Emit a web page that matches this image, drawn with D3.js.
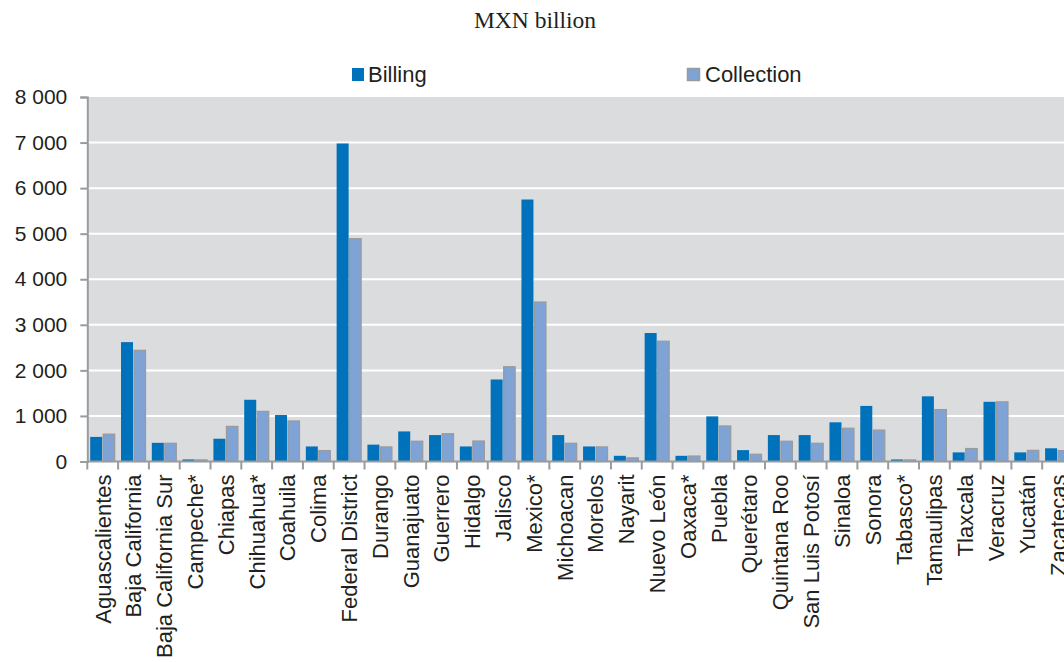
<!DOCTYPE html>
<html>
<head>
<meta charset="utf-8">
<script src="https://cdn.jsdelivr.net/npm/d3@7"></script>
<style>
  html, body { margin: 0; padding: 0; background: #fff; }
  svg { display: block; }
</style>
</head>
<body>
<svg id="chart" width="1064" height="662"></svg>
<script>
const categories = ["Aguascalientes","Baja California","Baja California Sur","Campeche*","Chiapas","Chihuahua*","Coahuila","Colima","Federal District","Durango","Guanajuato","Guerrero","Hidalgo","Jalisco","Mexico*","Michoacan","Morelos","Nayarit","Nuevo León","Oaxaca*","Puebla","Querétaro","Quintana Roo","San Luis Potosí","Sinaloa","Sonora","Tabasco*","Tamaulipas","Tlaxcala","Veracruz","Yucatán","Zacatecas"];
const billing =    [540, 2620, 410, 45, 500, 1355, 1020, 330, 6980, 370, 660, 580, 330, 1800, 5750, 580, 330, 125, 2820, 125, 990, 250, 580, 580, 860, 1220, 45, 1430, 200, 1310, 200, 290];
const collection = [600, 2440, 400, 35, 770, 1100, 890, 240, 4890, 320, 445, 610, 450, 2080, 3500, 400, 320, 80, 2640, 120, 780, 160, 445, 400, 730, 690, 35, 1140, 285, 1310, 245, 240];
const seriesNames = ["Billing", "Collection"];
const yTicks = [0, 1000, 2000, 3000, 4000, 5000, 6000, 7000, 8000];
const title = "MXN billion";

(function () {
const svg = d3.select("#chart");
const pLeft = 87.3, pRight = 1073, pTop = 97, pBottom = 461.5;

const x = d3.scaleBand().domain(categories).range([pLeft, pRight]).padding(0);
const x1 = d3.scaleBand().domain(seriesNames).range([2.9, x.bandwidth() - 2.9]).padding(0);
const y = d3.scaleLinear().domain([0, 8000]).range([pBottom, pTop]);

const fmt = v => d3.format(",")(v).replace(/,/g, " ");

// background
svg.append("rect").attr("x", pLeft).attr("y", pTop).attr("width", pRight - pLeft).attr("height", pBottom - pTop).attr("fill", "#dbdcde");

// gridlines
svg.append("g").selectAll("line").data(yTicks.filter(t => t > 0 && t < 8000)).join("line")
  .attr("x1", pLeft).attr("x2", pRight)
  .attr("y1", d => y(d)).attr("y2", d => y(d))
  .attr("stroke", "#fff").attr("stroke-width", 2);

// bars
const data = categories.map((c, i) => ({ c, vals: [billing[i], collection[i]] }));
const groups = svg.append("g").selectAll("g").data(data).join("g")
  .attr("transform", d => `translate(${x(d.c)},0)`);
groups.append("rect")
  .attr("x", x1("Billing")).attr("width", x1.bandwidth() - 0.5)
  .attr("y", d => y(d.vals[0])).attr("height", d => y(0) - y(d.vals[0]))
  .attr("fill", "#0071bb");
groups.append("rect")
  .attr("x", x1("Collection") + 0.5).attr("width", x1.bandwidth() - 1)
  .attr("y", d => y(d.vals[1])).attr("height", d => Math.max(0, y(0) - y(d.vals[1])))
  .attr("fill", "#7fa3d5").attr("stroke", "#999a9c").attr("stroke-width", 1.2);

// y axis
const yAxis = d3.axisLeft(y).tickValues(yTicks).tickSize(7).tickPadding(13).tickFormat(fmt);
const gy = svg.append("g").attr("transform", `translate(${pLeft},0)`).call(yAxis);
gy.select(".domain").attr("stroke", "#9a9b9d").attr("stroke-width", 2);
gy.selectAll(".tick line").attr("stroke", "#9a9b9d").attr("stroke-width", 2);
gy.selectAll(".tick text").attr("font-family", "Liberation Sans, Arial, sans-serif").attr("font-size", 21).attr("fill", "#231f20");

// x axis
const xAxis = d3.axisBottom(x).tickSize(0).tickPadding(0);
const gx = svg.append("g").attr("transform", `translate(0,${pBottom})`).call(xAxis);
gx.select(".domain").remove();
gx.append("line").attr("x1", pLeft).attr("x2", pRight).attr("y1", 0).attr("y2", 0).attr("stroke", "#9a9b9d").attr("stroke-width", 2);
gx.selectAll(".bnd").data(categories.concat(["__end"])).join("line")
  .attr("class", "bnd")
  .attr("x1", (d, i) => i < categories.length ? x(d) : pRight)
  .attr("x2", (d, i) => i < categories.length ? x(d) : pRight)
  .attr("y1", 0).attr("y2", 8)
  .attr("stroke", "#9a9b9d").attr("stroke-width", 2);
gx.selectAll(".tick text")
  .attr("font-family", "Liberation Sans, Arial, sans-serif").attr("font-size", 22).attr("fill", "#231f20")
  .attr("text-anchor", "end")
  .attr("transform", "translate(0,13) rotate(-90)")
  .attr("x", 0).attr("y", 0).attr("dy", "0.36em");

// legend
const leg = svg.append("g").attr("font-family", "Liberation Sans, Arial, sans-serif").attr("font-size", 22).attr("fill", "#231f20");
leg.append("rect").attr("x", 352).attr("y", 68).attr("width", 12).attr("height", 13).attr("fill", "#0071bb");
leg.append("text").attr("x", 368).attr("y", 82).text(seriesNames[0]);
leg.append("rect").attr("x", 687.5).attr("y", 68.5).attr("width", 12).attr("height", 12).attr("fill", "#7fa3d5").attr("stroke", "#999a9c").attr("stroke-width", 1.5);
leg.append("text").attr("x", 705).attr("y", 82).text(seriesNames[1]);

// title
svg.append("text").attr("x", 535).attr("y", 28).attr("text-anchor", "middle")
  .attr("font-family", "Liberation Serif, Times New Roman, serif").attr("font-size", 23.5).attr("fill", "#231f20")
  .text(title);
})();
</script>
</body>
</html>
